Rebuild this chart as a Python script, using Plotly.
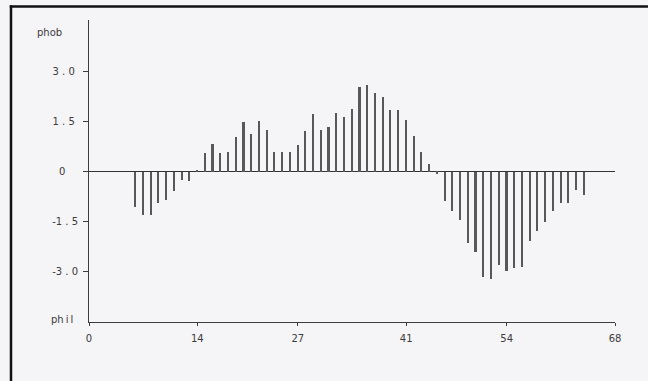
import plotly.graph_objects as go

# Hydropathy profile: residue position vs. hydrophobicity score
positions = list(range(6, 65))
scores = [
    -1.05, -1.30, -1.30, -0.92, -0.85, -0.56, -0.25, -0.28,   # 6-13
    0.03, 0.57, 0.82, 0.55, 0.58, 1.05, 1.48, 1.14,            # 14-21
    1.53, 1.26, 0.58, 0.58, 0.58, 0.80, 1.23, 1.72,            # 22-29
    1.25, 1.33, 1.75, 1.65, 1.87, 2.55, 2.59, 2.36,            # 30-37
    2.25, 1.85, 1.85, 1.56, 1.06, 0.58, 0.22, -0.05,           # 38-45
    -0.88, -1.18, -1.45, -2.13, -2.40, -3.14, -3.22, -2.78,    # 46-53
    -2.97, -2.89, -2.85, -2.08, -1.77, -1.50, -1.16, -0.92,    # 54-61
    -0.93, -0.55, -0.69,                                       # 62-64
]

x_ticks = [0, 14, 27, 41, 54, 68]
y_ticks = [-3.0, -1.5, 0, 1.5, 3.0]
# letter-spaced labels, padded with no-break spaces so they sit centred
NB = "\u00a0"
y_tick_text = ["-3 . 0", "-1 . 5", "0" + NB * 4, "1 . 5" + NB, "3 . 0" + NB]

INK = "#3c3c3c"
BG = "#f5f4f6"
FONT = dict(family="DejaVu Sans", size=10, color=INK)
FRAME = "#111111"

fig = go.Figure()
fig.add_trace(go.Bar(
    x=positions, y=scores, width=0.21,
    marker=dict(color="#585858", line=dict(width=0)),
    hoverinfo="x+y",
))

fig.update_layout(
    width=648, height=381,
    margin=dict(l=89, r=33, t=20, b=59),
    paper_bgcolor=BG, plot_bgcolor=BG,
    font=FONT,
    showlegend=False,
    bargap=0,
    xaxis=dict(
        range=[0, 68], tickvals=x_ticks, ticktext=[str(v) for v in x_ticks],
        showgrid=False, zeroline=False,
        showline=True, linecolor=INK, linewidth=1,
        ticks="outside", ticklen=3, tickcolor=INK, ticklabelstandoff=4,
    ),
    yaxis=dict(
        range=[-4.5, 4.55], tickvals=y_ticks, ticktext=y_tick_text,
        showgrid=False,
        zeroline=True, zerolinecolor="#333333", zerolinewidth=1,
        showline=True, linecolor=INK, linewidth=1,
        ticks="outside", ticklen=5, tickcolor=INK, ticklabelstandoff=3,
    ),
    annotations=[
        dict(text="phob", xref="paper", yref="y", x=-0.076, y=4.17,
             xanchor="center", yanchor="middle", showarrow=False, font=FONT),
        dict(text="ph\u2009i\u2009l", xref="paper", yref="y", x=-0.051, y=-4.42,
             xanchor="center", yanchor="middle", showarrow=False, font=FONT),
    ],
    shapes=[
        # page frame as two thin filled strips: top rule and left rule
        dict(type="rect", xref="paper", yref="paper",
             x0=-0.15067, x1=1.0627, y0=1.04056, y1=1.04884,
             fillcolor=FRAME, line=dict(width=0)),
        dict(type="rect", xref="paper", yref="paper",
             x0=-0.15067, x1=-0.14591, y0=-0.19536, y1=1.04884,
             fillcolor=FRAME, line=dict(width=0)),
    ],
)

fig.write_html("out.html", config={"displayModeBar": False})
